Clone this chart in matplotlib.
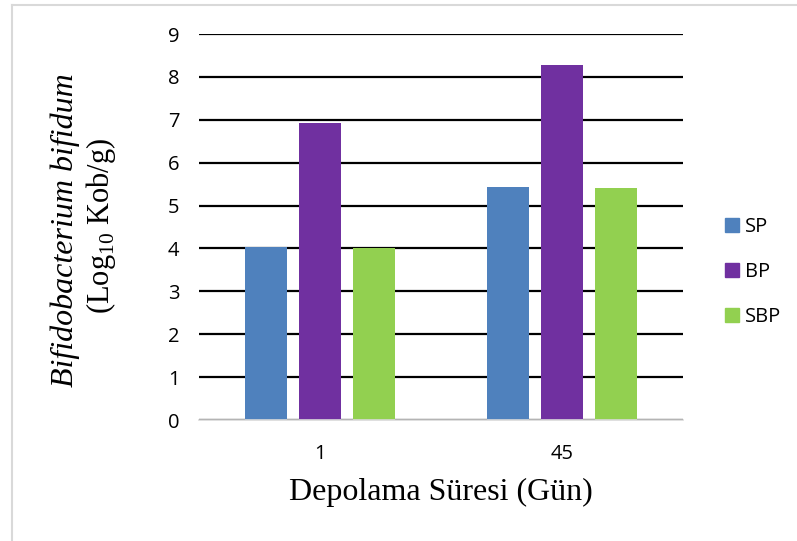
import matplotlib.pyplot as plt
import matplotlib.patches as mpatches
import matplotlib.lines as mlines
import numpy as np

plt.rcParams["mathtext.fontset"] = "custom"
plt.rcParams["mathtext.rm"] = "Liberation Serif"

# data
days = ["1", "45"]
series = ["SP", "BP", "SBP"]
sp = [4.03, 5.43]
bp = [6.93, 8.28]
sbp = [4.00, 5.41]
colors = ["#4F81BD", "#7030A0", "#92D050"]

fig = plt.figure(figsize=(7.97, 5.41), dpi=100)
ax = fig.add_axes([199/797, 1 - 420/541, (683 - 199)/797, (420 - 34)/541])

x = np.arange(len(days))
w = 0.174
step = 0.223
for i, vals in enumerate([sp, bp, sbp]):
    ax.bar(x + (i - 1) * step, vals, w, color=colors[i], label=series[i], zorder=3)

ax.set_xlim(-0.5, 1.5)
ax.set_ylim(0, 9)
ax.set_yticks(range(10))
ax.set_xticks(x)
ax.set_xticklabels(days)
ax.yaxis.grid(True, color="black", linewidth=1.6, zorder=0)
ax.set_axisbelow(True)
for s in ["top", "right", "left"]:
    ax.spines[s].set_visible(False)
ax.spines["bottom"].set_color("#D9D9D9")
ax.spines["bottom"].set_linewidth(1.2)
ax.spines["bottom"].set_zorder(4)
ax.tick_params(axis="both", length=0, labelsize=14.5)
ax.tick_params(axis="y", pad=14)
ax.tick_params(axis="x", pad=17)
for t in ax.get_xticklabels() + ax.get_yticklabels():
    t.set_fontfamily("Open Sans")

ax.set_xlabel("Depolama Süresi (Gün)", fontfamily="Liberation Serif", fontsize=23, labelpad=10)

fig.text(65/797, 1 - 230/541, "Bifidobacterium bifidum", rotation=90, ha="center", va="center",
         fontfamily="Liberation Serif", fontstyle="italic", fontsize=23)
fig.text(101/797, 1 - 226/541, r"(Log$_{10}$ Kob/g)", rotation=90, ha="center", va="center",
         fontfamily="Liberation Serif", fontsize=22)

handles = [mpatches.Patch(color=c) for c in colors]
leg = fig.legend(handles, series, loc="center left", bbox_to_anchor=(707/797, 1 - 272/541),
                 frameon=False, handlelength=0.7, handleheight=0.7, handletextpad=0.3,
                 labelspacing=1.25, prop={"family": "Open Sans", "size": 14.5})

# light frame around the chart
fig.add_artist(mlines.Line2D([12/797, 1], [1 - 5/541, 1 - 5/541], color="#D9D9D9", linewidth=1.5))
fig.add_artist(mlines.Line2D([12/797, 12/797], [0, 1 - 5/541], color="#D9D9D9", linewidth=1.5))

fig.savefig("out.png", dpi=100)
